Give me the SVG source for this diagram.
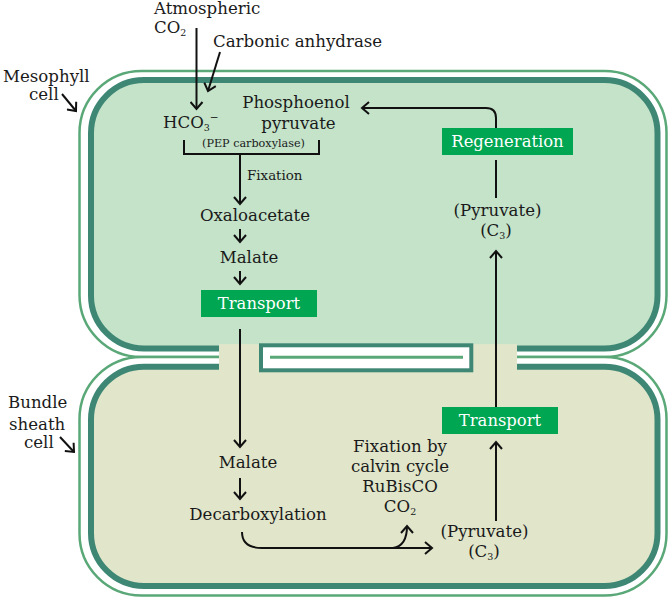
<svg xmlns="http://www.w3.org/2000/svg" width="671" height="599" viewBox="0 0 671 599">
<defs>
<style>
.outer{fill:#ffffff;stroke:#5aa878;stroke-width:2.5}
.inner{stroke:#3f8775;stroke-width:6}
.t{font-family:"DejaVu Serif","Liberation Serif",serif;font-size:16.6px;fill:#1a1a1a}
.s{font-family:"DejaVu Serif","Liberation Serif",serif;font-size:11.2px;fill:#1a1a1a}
.f{font-family:"DejaVu Serif","Liberation Serif",serif;font-size:13.4px;fill:#1a1a1a}
.w{font-family:"DejaVu Serif","Liberation Serif",serif;font-size:16.4px;fill:#ffffff}
.box{fill:#00a651}
.ln{fill:none;stroke:#111111;stroke-width:2}
</style>
<marker id="ah" markerUnits="userSpaceOnUse" markerWidth="14" markerHeight="14" refX="0" refY="0" viewBox="-9 -7 11 14" orient="auto">
<path d="M-7,-6 L0,0 L-7,6" fill="none" stroke="#111111" stroke-width="2"/>
</marker>
</defs>
<rect width="671" height="599" fill="#ffffff"/>
<g id="mesophyll-cell">
<rect class="outer" x="79.5" y="71" width="587" height="286" rx="62"/>
<rect class="inner" x="91" y="80" width="566.5" height="268.5" rx="53" fill="#c4e3c9"/>
</g>
<g id="bundle-sheath-cell">
<rect class="outer" x="79.5" y="357" width="587" height="238.5" rx="62"/>
<rect class="inner" x="91" y="366.7" width="566.5" height="219.3" rx="53" fill="#e1e6ca"/>
<rect x="219" y="344.2" width="298" height="28" fill="#e1e6ca"/>
</g>
<g id="plasmodesma">
<rect x="261" y="345.3" width="210.3" height="25" fill="#ffffff" stroke="#3f8775" stroke-width="4"/>
<line x1="270" y1="357.2" x2="463" y2="357.2" stroke="#5aa878" stroke-width="3"/>
</g>
<g id="labels-cells">
<text class="t" x="3" y="82">Mesophyll</text>
<text class="t" x="29" y="100">cell</text>
<text class="t" x="8" y="408">Bundle</text>
<text class="t" x="9" y="430">sheath</text>
<text class="t" x="24" y="448">cell</text>
</g>
<g id="atmospheric-co2">
<text class="t" x="154" y="14">Atmospheric</text>
<text class="t" x="154" y="33">CO<tspan font-size="9.5" dy="3">2</tspan></text>
</g>
<g id="carbonic-anhydrase">
<text class="t" x="213" y="47">Carbonic anhydrase</text>
</g>
<g id="hco3">
<text class="t" x="163" y="128">HCO<tspan font-size="9.5" dy="3">3</tspan><tspan font-size="10.5" dy="-10">−</tspan></text>
</g>
<g id="pep">
<text class="t" x="296" y="108" text-anchor="middle">Phosphoenol</text>
<text class="t" x="298.5" y="129" text-anchor="middle">pyruvate</text>
</g>
<g id="pep-carboxylase">
<text class="s" x="253.5" y="147" text-anchor="middle">(PEP carboxylase)</text>
<text class="f" x="247" y="180">Fixation</text>
</g>
<g id="oxaloacetate"><text class="t" x="255" y="221" text-anchor="middle">Oxaloacetate</text></g>
<g id="malate-top"><text class="t" x="249" y="263" text-anchor="middle">Malate</text></g>
<g id="transport-top">
<rect class="box" x="201" y="290" width="116" height="27"/>
<text class="w" x="259" y="309" text-anchor="middle">Transport</text>
</g>
<g id="regeneration">
<rect class="box" x="442" y="128" width="131" height="27"/>
<text class="w" x="507.5" y="146.5" text-anchor="middle">Regeneration</text>
</g>
<g id="pyruvate-top">
<text class="t" x="497.5" y="216" text-anchor="middle">(Pyruvate)</text>
<text class="t" x="496" y="236" text-anchor="middle">(C<tspan font-size="9.5" dy="3">3</tspan><tspan dy="-3">)</tspan></text>
</g>
<g id="malate-bottom"><text class="t" x="248" y="468" text-anchor="middle">Malate</text></g>
<g id="decarboxylation"><text class="t" x="258" y="520" text-anchor="middle">Decarboxylation</text></g>
<g id="calvin">
<text class="t" x="400" y="452" text-anchor="middle">Fixation by</text>
<text class="t" x="400" y="472" text-anchor="middle">calvin cycle</text>
<text class="t" x="400" y="492" text-anchor="middle">RuBisCO</text>
<text class="t" x="400" y="512" text-anchor="middle">CO<tspan font-size="9.5" dy="3">2</tspan></text>
</g>
<g id="transport-bottom">
<rect class="box" x="442" y="407" width="116" height="27"/>
<text class="w" x="500" y="425.5" text-anchor="middle">Transport</text>
</g>
<g id="pyruvate-bottom">
<text class="t" x="484.5" y="537" text-anchor="middle">(Pyruvate)</text>
<text class="t" x="484" y="557" text-anchor="middle">(C<tspan font-size="9.5" dy="3">3</tspan><tspan dy="-3">)</tspan></text>
</g>
<g id="connectors">
<path class="ln" d="M62,94 L76,111" marker-end="url(#ah)"/>
<path class="ln" d="M60,437 L74,452" marker-end="url(#ah)"/>
<path class="ln" d="M196.5,28 L196.5,109" marker-end="url(#ah)"/>
<path class="ln" d="M220,52 L208,91" marker-end="url(#ah)"/>
<path class="ln" d="M184,140 L184,154 L319,154 L319,140"/>
<path class="ln" d="M240,154 L240,204" marker-end="url(#ah)"/>
<path class="ln" d="M240,229 L240,242" marker-end="url(#ah)"/>
<path class="ln" d="M240,271 L240,284" marker-end="url(#ah)"/>
<path class="ln" d="M240,329 L240,447" marker-end="url(#ah)"/>
<path class="ln" d="M240,478 L240,499" marker-end="url(#ah)"/>
<path class="ln" d="M242,532 Q242,548 262,548 L432,548" marker-end="url(#ah)"/>
<path class="ln" d="M393,548 Q407,546 407,526" marker-end="url(#ah)"/>
<path class="ln" d="M496,521 L496,442" marker-end="url(#ah)"/>
<path class="ln" d="M496,407 L496,251" marker-end="url(#ah)"/>
<path class="ln" d="M496,198 L496,160"/>
<path class="ln" d="M496,128 L496,118 Q496,108 486,108 L362,108" marker-end="url(#ah)"/>
</g>
</svg>
